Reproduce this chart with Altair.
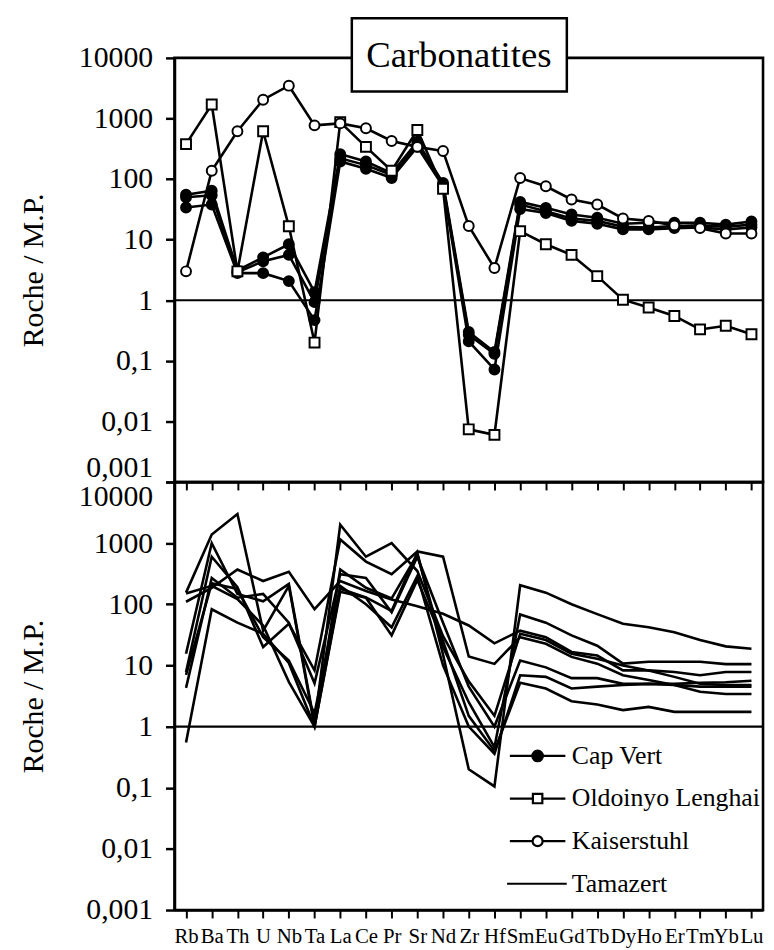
import altair as alt
import pandas as pd

elements = ["Rb", "Ba", "Th", "U", "Nb", "Ta", "La", "Ce", "Pr", "Sr", "Nd", "Zr", "Hf",
            "Sm", "Eu", "Gd", "Tb", "Dy", "Ho", "Er", "Tm", "Yb", "Lu"]

# ---- top panel : carbonatites of reference ----
cap_vert_1 = [55, 64, 3.1, 5.1, 8.4, 1.36, 258, 195, 125, 412, 86, 0.30, 0.14,
              42, 33.5, 26, 23, 18.3, 19, 19, 19, 17.7, 19.9]
cap_vert_2 = [50, 54, 2.9, 4.4, 5.6, 0.93, 220, 170, 117, 372, 80, 0.27, 0.13,
              38, 29.5, 22.4, 20.4, 16.3, 15.9, 16.8, 17.2, 16.3, 17.7]
cap_vert_3 = [34, 38, 2.8, 2.8, 2.07, 0.47, 195, 148, 104, 340, 76, 0.21, 0.072,
              32, 27.5, 20.4, 18.3, 14.8, 14.8, 15.5, 15.9, 14.8, 15.9]
oldoinyo = [377, 1700, 3.0, 615, 16.6, 0.20, 870, 340, 137, 645, 69, 0.0074, 0.006,
            13.8, 8.4, 5.6, 2.5, 1.02, 0.76, 0.55, 0.33, 0.38, 0.275]
kaiserstuhl = [3.0, 137, 615, 2040, 3480, 770, 830, 690, 425, 340, 290, 16.8, 3.4,
               104, 76, 46, 38, 22.4, 20.4, 17.2, 15.5, 12.6, 12.6]

# ---- bottom panel : Tamazert ----
tam_1 = [0.55, 83, 50, 33, 11, 1.0, 180, 130, 78, 700, 15, 0.2, 0.105,
         205, 155, 100, 69, 48, 42, 35, 26, 20.5, 18.7]
tam_2 = [155, 1380, 3000, 37, 200, 1.0, 370, 186, 125, 650, 20, 2.5, 0.46,
         68, 50, 31, 21, 10.7, 11.5, 11.5, 11.5, 10.5, 10.5]
tam_3 = [110, 186, 370, 240, 340, 83, 240, 165, 120, 93, 70, 45, 23,
         37, 29, 16.6, 14.5, 8.3, 8.3, 7.8, 6.9, 7.8, 7.8]
tam_4 = [15.5, 1000, 148, 112, 215, 1.1, 2000, 600, 1000, 350, 30, 5.5, 1.5,
         33, 26, 15.5, 12.9, 10, 8.3, 6.5, 5.0, 4.8, 4.8]
tam_5 = [7.8, 600, 190, 20, 48, 8.3, 1150, 500, 310, 730, 600, 14, 10.6,
         29, 22.6, 13.8, 10.7, 6.9, 5.8, 4.8, 3.7, 3.4, 3.4]
tam_6 = [4.3, 270, 128, 148, 50, 5.1, 310, 270, 74, 600, 50, 4.5, 1.0,
         12, 9.3, 6.2, 6.2, 5.0, 5.0, 5.0, 5.2, 5.3, 5.6]
tam_7 = [7.0, 220, 178, 29, 12, 1.65, 200, 100, 42, 290, 10, 1.0, 0.36,
         6.9, 6.5, 4.2, 4.5, 4.8, 5.0, 4.8, 4.5, 4.5, 4.5]
tam_8 = [150, 200, 122, 45, 5.4, 1.0, 160, 128, 31, 250, 25, 1.5, 0.4,
         5.2, 4.2, 2.6, 2.3, 1.86, 2.1, 1.74, 1.74, 1.74, 1.74]

groups = ["Cap Vert", "Oldoinyo Lenghai", "Kaiserstuhl", "Tamazert"]
y_ticks = [0.001, 0.01, 0.1, 1, 10, 100, 1000, 10000]
title_text = "Carbonatites"
y_title = "Roche / M.P."

top_series = [("CV1", "Cap Vert", cap_vert_1), ("CV2", "Cap Vert", cap_vert_2),
              ("CV3", "Cap Vert", cap_vert_3), ("OL", "Oldoinyo Lenghai", oldoinyo),
              ("KS", "Kaiserstuhl", kaiserstuhl)]
bot_series = [("T%d" % (i + 1), "Tamazert", s) for i, s in
              enumerate([tam_1, tam_2, tam_3, tam_4, tam_5, tam_6, tam_7, tam_8])]


def long_df(series):
    rows = []
    for sid, grp, vals in series:
        for i, (el, v) in enumerate(zip(elements, vals)):
            rows.append({"sample": sid, "group": grp, "element": el, "order": i, "value": v})
    return pd.DataFrame(rows)


df_top = long_df(top_series)
df_bot = long_df(bot_series)

FONT = "'Liberation Serif', 'Times New Roman', 'DejaVu Serif', serif"
W, H_TOP, H_BOT = 594, 428, 432

label_expr = ("datum.value >= 1 ? format(datum.value, 'd') : "
              "replace(format(datum.value, '~g'), '.', ',')")


def y_enc(flush_low):
    cond_test = "datum.value < 0.002" if flush_low else "datum.value > 5000"
    cond_val = "bottom" if flush_low else "top"
    return alt.Y("value:Q",
                 scale=alt.Scale(type="log", domain=[0.001, 10000]),
                 axis=alt.Axis(values=y_ticks, labelExpr=label_expr, title=y_title,
                               grid=False, tickSize=9, tickWidth=2.5,
                               labelPadding=13, titlePadding=30,
                               labelBaseline={"condition": {"test": cond_test, "value": cond_val},
                                              "value": "middle"}))


def x_enc(show_labels):
    return alt.X("element:N", sort=elements,
                 scale=alt.Scale(type="point", padding=0.45),
                 axis=alt.Axis(title=None, labels=show_labels, labelAngle=0, tickSize=8,
                               tickWidth=2, labelOverlap=False, labelPadding=8,
                               grid=False))


rule_df = pd.DataFrame({"value": [1]})

# top panel layers
top_lines = alt.Chart(df_top).mark_line(color="black", strokeWidth=2.6).encode(
    x=x_enc(False), y=y_enc(True), detail="sample:N", order="order:Q")
top_rule = alt.Chart(rule_df).mark_rule(color="black", strokeWidth=2.2).encode(y="value:Q")
top_points = alt.Chart(df_top).mark_point(filled=True, stroke="black", strokeWidth=2,
                                           size=100, opacity=1).encode(
    x=x_enc(False), y="value:Q",
    shape=alt.Shape("group:N", scale=alt.Scale(domain=groups[:3],
                                                range=["circle", "square", "circle"]),
                    legend=None),
    fill=alt.Fill("group:N", scale=alt.Scale(domain=groups[:3],
                                              range=["black", "white", "white"]),
                  legend=None),
    detail="sample:N")
box = alt.Chart(pd.DataFrame({"t": [title_text]})).mark_rect(
    fill="white", stroke="black", strokeWidth=2.5).encode(
    x=alt.value(179), x2=alt.value(396), y=alt.value(-40), y2=alt.value(34))
box_text = alt.Chart(pd.DataFrame({"t": [title_text]})).mark_text(
    font=FONT, fontSize=37, color="black", baseline="middle", align="center").encode(
    text="t:N", x=alt.value(287), y=alt.value(-2))

top = alt.layer(top_rule, top_lines, top_points, box, box_text).properties(
    width=W, height=H_TOP)

# bottom panel layers
legend_paths = [
    "M-1,0H1M0.19,0A0.19,0.19,0,1,1,-0.19,0A0.19,0.19,0,1,1,0.19,0Z",
    "M-1,0H-0.17M0.17,0H1M-0.17,-0.17H0.17V0.17H-0.17Z",
    "M-1,0H-0.18M0.18,0H1M0.18,0A0.18,0.18,0,1,1,-0.18,0A0.18,0.18,0,1,1,0.18,0Z",
    "M-1.1,0H1.05",
]
leg = alt.Legend(title=None, orient="none", legendX=337, legendY=247,
                 symbolSize=3136, symbolStrokeWidth=2.2, symbolStrokeColor="black",
                 symbolOpacity=1, labelFont=FONT, labelFontSize=26, labelColor="black",
                 labelOffset=5, rowPadding=-10.8, labelLimit=0)

bot_lines = alt.Chart(df_bot).mark_line(color="black", strokeWidth=2.6).encode(
    x=x_enc(True), y=y_enc(False), detail="sample:N", order="order:Q")
bot_rule = alt.Chart(rule_df).mark_rule(color="black", strokeWidth=2.2).encode(y="value:Q")
bot_legend = alt.Chart(df_bot).mark_point(filled=True, opacity=0).encode(
    x=x_enc(True), y="value:Q",
    shape=alt.Shape("group:N", scale=alt.Scale(domain=groups, range=legend_paths), legend=leg),
    fill=alt.Fill("group:N", scale=alt.Scale(domain=groups,
                                              range=["black", "white", "white", "white"]),
                  legend=leg),
    stroke=alt.Stroke("group:N", scale=alt.Scale(domain=groups,
                                                  range=["black", "black", "black", "black"]),
                      legend=leg))

bottom = alt.layer(bot_rule, bot_lines, bot_legend).properties(width=W, height=H_BOT)

chart = alt.vconcat(top, bottom, spacing=0, bounds="flush").resolve_scale(
    shape="independent", fill="independent", stroke="independent"
).resolve_legend(
    shape="independent", fill="independent", stroke="independent"
).properties(
    padding={"left": 9, "top": 3, "right": 0, "bottom": 0},
    background="white",
).configure_view(
    stroke="black", strokeWidth=2.6
).configure_axis(
    domainColor="black", domainWidth=2.6, tickColor="black",
    labelFont=FONT, labelFontSize=30, labelColor="black",
    titleFont=FONT, titleFontSize=30, titleColor="black", titleFontWeight="normal",
).configure_axisX(
    labelFontSize=21
)

chart.save("out.html", embed_options={"renderer": "svg", "actions": False})
